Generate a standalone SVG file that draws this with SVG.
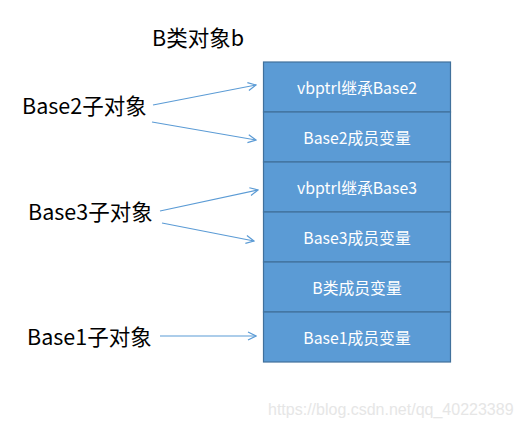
<svg xmlns="http://www.w3.org/2000/svg" width="520" height="429" viewBox="0 0 520 429">
<defs>
<style>
.lbl{font-family:"Noto Sans CJK SC","Noto Sans",sans-serif;font-size:21.5px;fill:#000}
.cell rect{fill:#5b9bd5;stroke:#41719c;stroke-width:1.2}
.cell text{font-family:"Noto Sans CJK SC","Noto Sans",sans-serif;font-size:15.8px;fill:#fff;text-anchor:middle;dominant-baseline:central}
.conn line{stroke:#5b9bd5;stroke-width:1.2;marker-end:url(#ah)}
</style>
<marker id="ah" viewBox="0 0 10 10" refX="9" refY="5" markerWidth="10" markerHeight="10" markerUnits="userSpaceOnUse" orient="auto">
<path d="M1,1 L9,5 L1,9" fill="none" stroke="#5b9bd5" stroke-width="1.2"/>
</marker>
</defs>
<rect width="520" height="429" fill="#fff"/>
<text class="lbl" x="152" y="46">B类对象b</text>
<g id="labels">
<text id="l2" class="lbl" x="22" y="114">Base2子对象</text>
<text id="l3" class="lbl" x="28" y="220">Base3子对象</text>
<text id="l1" class="lbl" x="27" y="345">Base1子对象</text>
</g>
<g id="c1" class="cell"><rect x="263.5" y="62" width="187" height="50"/><text x="357" y="87">vbptrl继承Base2</text></g>
<g id="c2" class="cell"><rect x="263.5" y="112" width="187" height="50"/><text x="357" y="137">Base2成员变量</text></g>
<g id="c3" class="cell"><rect x="263.5" y="162" width="187" height="50"/><text x="357" y="187">vbptrl继承Base3</text></g>
<g id="c4" class="cell"><rect x="263.5" y="212" width="187" height="50"/><text x="357" y="237">Base3成员变量</text></g>
<g id="c5" class="cell"><rect x="263.5" y="262" width="187" height="50"/><text x="357" y="287">B类成员变量</text></g>
<g id="c6" class="cell"><rect x="263.5" y="312" width="187" height="50"/><text x="357" y="337">Base1成员变量</text></g>
<g id="connectors" class="conn">
<line x1="153" y1="105" x2="256" y2="85"/>
<line x1="152" y1="122" x2="256" y2="140"/>
<line x1="160" y1="211" x2="258" y2="190"/>
<line x1="162" y1="223" x2="254" y2="241"/>
<line x1="160" y1="336" x2="256" y2="336"/>
</g>
<text x="268" y="415" font-family="'Liberation Sans',Arial,sans-serif" font-size="16" fill="#e6e6e6">https://blog.csdn.net/qq_40223389</text>
</svg>
